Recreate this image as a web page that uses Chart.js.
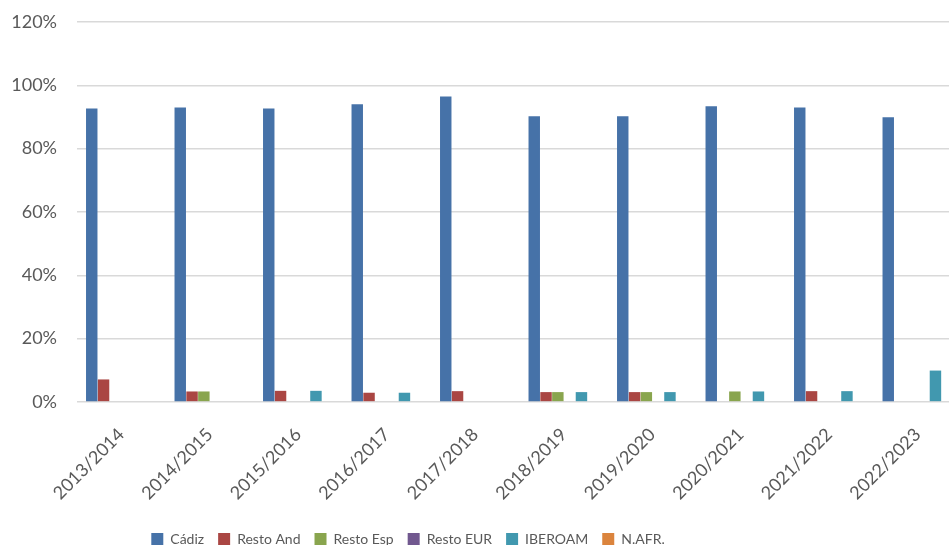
<!DOCTYPE html>
<html>
<head>
<meta charset="utf-8">
<script src="https://cdn.jsdelivr.net/npm/chart.js@4.4.0/dist/chart.umd.min.js"></script>
<style>
  html, body { margin: 0; padding: 0; background: #fff; overflow: hidden; }
  #wrap { width: 962px; height: 556px; }
</style>
</head>
<body>
<div id="wrap"><canvas id="chart"></canvas></div>
<script>
  const cursos = ["2013/2014", "2014/2015", "2015/2016", "2016/2017", "2017/2018",
                  "2018/2019", "2019/2020", "2020/2021", "2021/2022", "2022/2023"];
  const cadiz     = [92.7, 93.0, 92.7, 94.0, 96.5, 90.2, 90.2, 93.4, 93.0, 89.9];
  const restoAnd  = [7.1, 3.3, 3.5, 2.9, 3.4, 3.1, 3.1, 0, 3.4, 0];
  const restoEsp  = [0, 3.3, 0, 0, 0, 3.1, 3.1, 3.3, 0, 0];
  const restoEur  = [0, 0, 0, 0, 0, 0, 0, 0, 0, 0];
  const iberoam   = [0, 0, 3.5, 2.9, 0, 3.1, 3.1, 3.3, 3.4, 9.9];
  const nafr      = [0, 0, 0, 0, 0, 0, 0, 0, 0, 0];
  const yTicks = [0, 20, 40, 60, 80, 100, 120];

  const textColor = "#595959";
  const font = "Lato, 'Liberation Sans', sans-serif";

  function serie(label, data, color) {
    return {
      label: label,
      data: data,
      backgroundColor: color,
      borderWidth: 0,
      categoryPercentage: 0.8,
      barPercentage: 0.97
    };
  }

  // the legend in the original sits left of centre
  const shiftLegend = {
    id: "shiftLegend",
    afterLayout(chart) {
      chart.legend.left -= 78;
      chart.legend.right -= 78;
    }
  };

  new Chart("chart", {
    type: "bar",
    data: {
      labels: cursos,
      datasets: [
        serie("Cádiz", cadiz, "#4672A8"),
        serie("Resto And", restoAnd, "#AA4643"),
        serie("Resto Esp", restoEsp, "#89A54E"),
        serie("Resto EUR", restoEur, "#71588F"),
        serie("IBEROAM", iberoam, "#4198AF"),
        serie("N.AFR.", nafr, "#DB843D")
      ]
    },
    plugins: [shiftLegend],
    options: {
      responsive: true,
      maintainAspectRatio: false,
      animation: false,
      layout: { padding: { left: 10, right: 0, top: 22, bottom: 0 } },
      plugins: {
        tooltip: { enabled: false },
        legend: {
          position: "bottom",
          labels: {
            boxWidth: 12,
            boxHeight: 12,
            padding: 14,
            color: textColor,
            font: { family: font, size: 14 }
          }
        }
      },
      scales: {
        x: {
          grid: { display: false },
          border: { display: false },
          afterFit: (scale) => { scale.paddingLeft = 0; },
          ticks: {
            color: textColor,
            maxRotation: 45,
            minRotation: 45,
            padding: 14,
            font: { family: font, size: 18 }
          }
        },
        y: {
          min: 0,
          max: 120,
          afterBuildTicks: (axis) => { axis.ticks = yTicks.map(v => ({ value: v })); },
          afterFit: (scale) => { scale.width = 67; scale.paddingTop = 11; scale.paddingBottom = 11; },
          grid: { color: "#d9d9d9", lineWidth: 1.5, drawTicks: false },
          border: { display: false },
          ticks: {
            color: textColor,
            padding: 20,
            font: { family: font, size: 18 },
            callback: (v) => v + "%"
          }
        }
      }
    }
  });
</script>
</body>
</html>
